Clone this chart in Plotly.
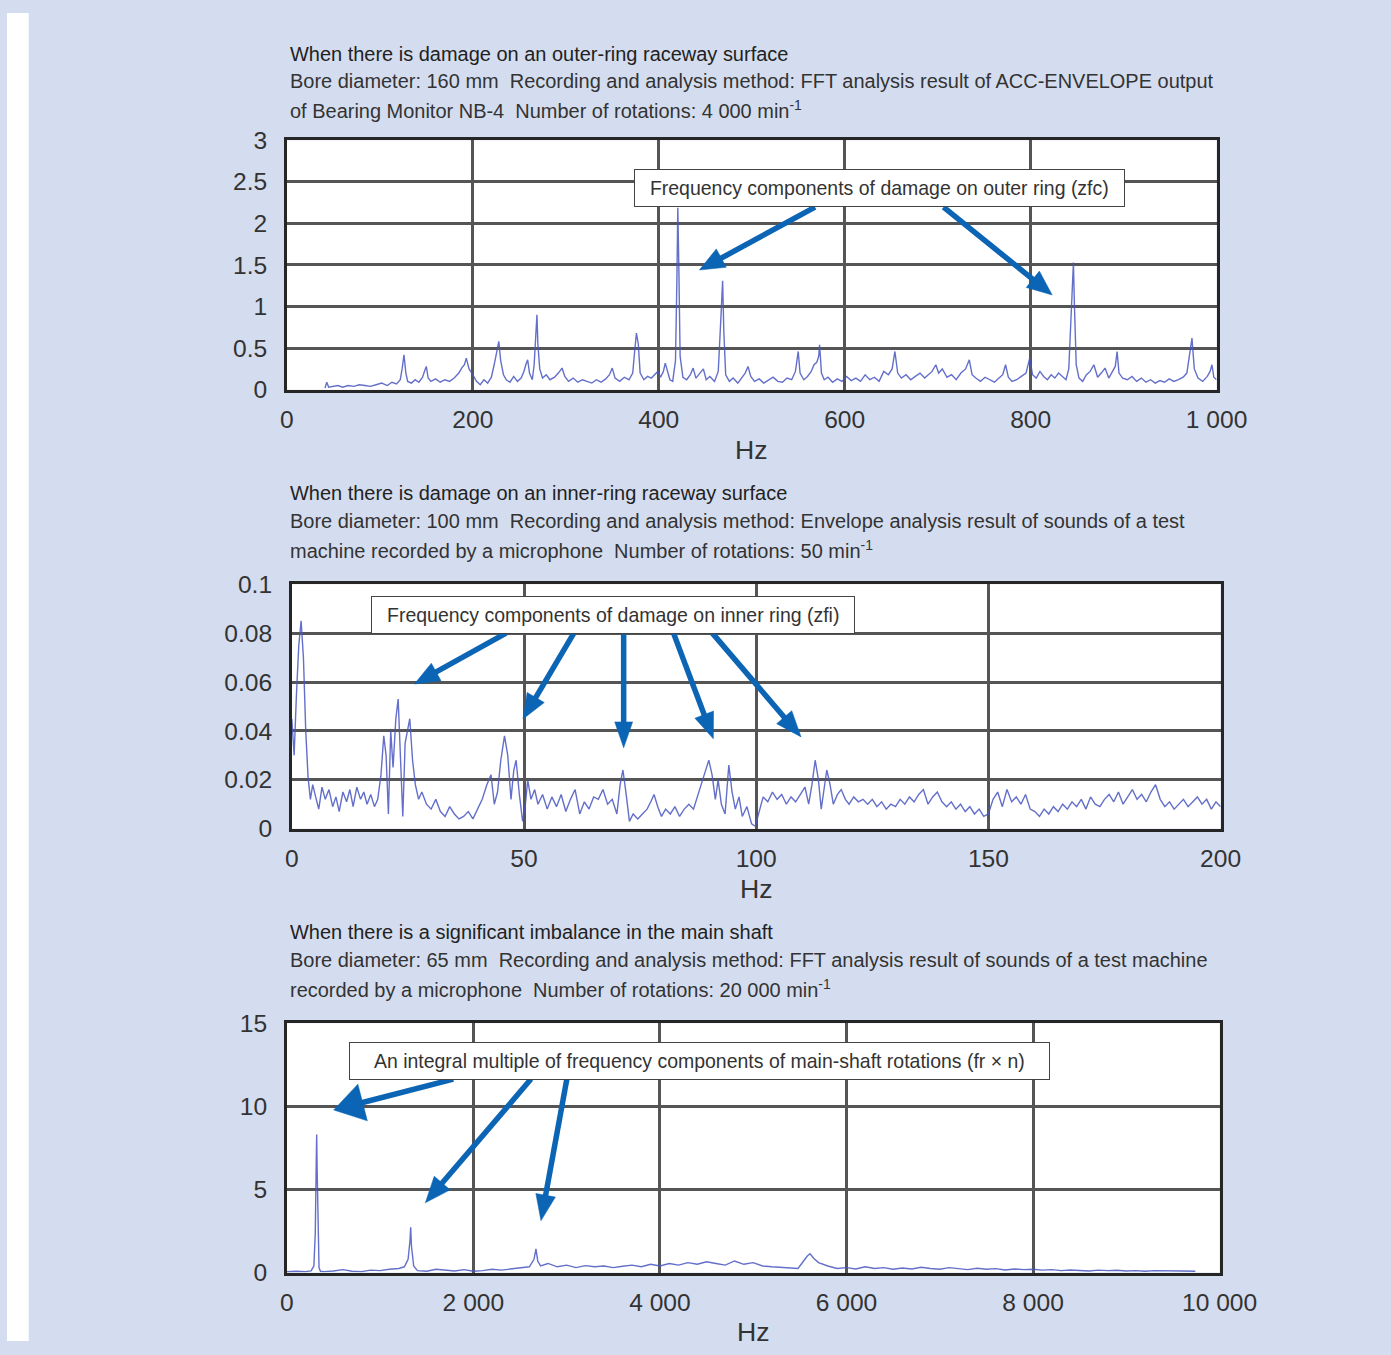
import plotly.graph_objects as go

W, H = 1391, 1355

# ---------------- Chart 1: outer-ring damage (0-1000 Hz) ----------------
outer_hz = [
    41, 43, 45, 50, 55, 60, 66, 72, 78, 84,
    90, 96, 102, 108, 113, 118, 122, 124, 126, 128,
    130, 134, 138, 142, 146, 148, 150, 152, 155, 160,
    165, 170, 175, 180, 185, 188, 191, 193, 196, 200,
    204, 208, 212, 216, 220, 223, 226, 228, 230, 233,
    236, 240, 244, 248, 252, 255, 257, 259, 261, 264,
    266, 268, 269, 270, 272, 275, 279, 283, 288, 292,
    296, 299, 303, 308, 313, 318, 323, 328, 333, 338,
    343, 347, 350, 353, 358, 363, 368, 372, 374, 376,
    378, 380, 384, 388, 392, 396, 399, 402, 405, 407,
    409, 412, 415, 418, 419.5, 420.5, 421.5, 423, 426, 430,
    434, 437, 440, 444, 448, 451, 455, 460, 464, 467,
    468.7, 470, 472, 476, 480, 485, 490, 493, 496, 499,
    503, 508, 513, 518, 523, 528, 533, 538, 543, 547,
    550, 552, 556, 560, 564, 567, 570, 572, 573, 575,
    578, 582, 587, 592, 597, 602, 607, 612, 617, 622,
    627, 632, 637, 642, 647, 651, 654, 657, 661, 666,
    671, 676, 681, 686, 690, 694, 698, 701, 705, 710,
    715, 720, 725, 730, 734, 737, 741, 746, 751, 756,
    761, 766, 770, 773, 776, 780, 785, 790, 795, 799,
    802, 806, 810, 814, 818, 822, 826, 830, 834, 838,
    841, 843, 845, 846, 847, 849, 852, 856, 860, 864,
    868, 872, 876, 880, 884, 888, 891, 893, 895, 899,
    904, 909, 914, 919, 924, 929, 934, 939, 944, 949,
    954, 959, 964, 968, 971, 973.5, 976, 980, 985, 990,
    993, 995, 997, 1000,
]
outer_amp = [
    0.02, 0.09, 0.03, 0.04, 0.05, 0.03, 0.05, 0.04, 0.06, 0.05,
    0.04, 0.06, 0.08, 0.05, 0.09, 0.07, 0.12, 0.25, 0.42, 0.20,
    0.10, 0.08, 0.12, 0.09, 0.15, 0.22, 0.28, 0.14, 0.10, 0.13,
    0.09, 0.12, 0.10, 0.14, 0.20, 0.26, 0.30, 0.38, 0.25, 0.18,
    0.10, 0.06, 0.12, 0.08, 0.15, 0.30, 0.45, 0.58, 0.35, 0.18,
    0.12, 0.09, 0.16, 0.10, 0.14, 0.22, 0.30, 0.36, 0.20, 0.12,
    0.30, 0.65, 0.90, 0.55, 0.25, 0.14, 0.18, 0.12, 0.15, 0.20,
    0.26, 0.16, 0.10, 0.14, 0.09, 0.12, 0.10, 0.08, 0.12, 0.09,
    0.13, 0.18, 0.26, 0.14, 0.10, 0.15, 0.12, 0.20, 0.45, 0.68,
    0.55, 0.20, 0.12, 0.16, 0.14, 0.18, 0.22, 0.15, 0.22, 0.32,
    0.25, 0.12, 0.10, 0.35, 1.30, 2.19, 1.55, 0.40, 0.15, 0.12,
    0.18, 0.26, 0.14, 0.20, 0.25, 0.12, 0.16, 0.10, 0.22, 0.90,
    1.31, 0.70, 0.18, 0.10, 0.14, 0.08, 0.15, 0.20, 0.28, 0.16,
    0.10, 0.13, 0.08, 0.12, 0.15, 0.10, 0.09, 0.14, 0.12, 0.22,
    0.46, 0.20, 0.12, 0.16, 0.22, 0.30, 0.33, 0.40, 0.54, 0.20,
    0.12, 0.15, 0.09, 0.13, 0.10, 0.16, 0.11, 0.14, 0.10, 0.18,
    0.12, 0.15, 0.10, 0.22, 0.18, 0.25, 0.46, 0.20, 0.14, 0.18,
    0.12, 0.16, 0.20, 0.14, 0.18, 0.22, 0.30, 0.20, 0.25, 0.15,
    0.18, 0.12, 0.20, 0.25, 0.36, 0.18, 0.14, 0.10, 0.15, 0.12,
    0.09, 0.14, 0.18, 0.30, 0.15, 0.10, 0.12, 0.16, 0.20, 0.38,
    0.18, 0.14, 0.22, 0.16, 0.12, 0.18, 0.14, 0.20, 0.16, 0.12,
    0.25, 0.70, 1.20, 1.53, 1.05, 0.30, 0.14, 0.10, 0.18, 0.22,
    0.30, 0.15, 0.20, 0.26, 0.14, 0.22, 0.28, 0.46, 0.20, 0.14,
    0.12, 0.16, 0.10, 0.14, 0.09, 0.12, 0.08, 0.11, 0.09, 0.13,
    0.10, 0.12, 0.15, 0.20, 0.40, 0.62, 0.25, 0.14, 0.10, 0.16,
    0.22, 0.30, 0.15, 0.12,
]

# ---------------- Chart 2: inner-ring damage (0-200 Hz) ----------------
inner_hz = [
    0, 0.5, 1, 1.5, 2, 2.5, 3, 3.5, 4, 4.5,
    5, 5.8, 6.5, 7.2, 8, 8.8, 9.5, 10.2, 11, 11.8,
    12.5, 13.2, 14, 14.8, 15.5, 16.2, 17, 17.8, 18.5, 19.2,
    19.8, 20.3, 20.8, 21.3, 21.8, 22.4, 22.9, 23.4, 23.9, 24.4,
    24.9, 25.4, 26, 26.6, 27.3, 28, 29, 30, 31, 32,
    33, 34, 35, 36, 37, 38, 39, 40, 41, 42,
    42.9, 43.6, 44.3, 45, 45.8, 46.5, 47.2, 47.8, 48.3, 49,
    49.7, 50.3, 50.8, 51.5, 52.3, 53, 54, 55, 56, 57,
    58, 59, 60, 61, 62, 63, 64, 65, 66, 67,
    68, 69, 70, 70.7, 71.3, 72, 72.7, 73.5, 74.5, 75.5,
    76.5, 77.3, 78, 78.8, 79.6, 80.5, 81.5, 82.5, 83.5, 84.5,
    85.5, 86.5, 87.3, 88, 88.8, 89.8, 90.5, 91.2, 91.8, 92.5,
    93.3, 94.1, 94.8, 95.5, 96.3, 97, 98, 99, 99.8, 100.5,
    101.5, 102.5, 103.5, 104.5, 105.5, 106.5, 107.5, 108.5, 109.5, 110.5,
    111.3, 112, 112.7, 113.4, 114, 114.6, 115.2, 115.9, 116.6, 117.5,
    118.3, 119.2, 120, 121, 122, 123, 124, 125, 126, 127,
    128, 129, 130, 131, 132, 133, 134, 135, 136, 137,
    138, 139, 140, 141, 142, 143, 144, 145, 146, 147,
    148, 149, 150, 151, 152, 153, 154, 155, 156, 157,
    158, 159, 160, 161, 162, 163, 164, 165, 166, 167,
    168, 169, 170, 171, 172, 173, 174, 175, 176, 177,
    178, 179, 180, 181, 182, 183, 184, 185, 186, 187,
    188, 189, 190, 191, 192, 193, 194, 195, 196, 197,
    198, 199, 200,
]
inner_amp = [
    0.045, 0.030, 0.055, 0.075, 0.085, 0.070, 0.040, 0.021, 0.012, 0.018,
    0.014, 0.008, 0.017, 0.012, 0.016, 0.009, 0.013, 0.007, 0.015, 0.011,
    0.016, 0.009, 0.017, 0.012, 0.015, 0.010, 0.014, 0.009, 0.012, 0.022,
    0.038, 0.030, 0.006, 0.040, 0.025, 0.045, 0.053, 0.030, 0.005, 0.035,
    0.040, 0.045, 0.028, 0.018, 0.012, 0.015, 0.010, 0.008, 0.012, 0.007,
    0.005, 0.009, 0.006, 0.004, 0.005, 0.007, 0.004, 0.008, 0.012, 0.018,
    0.022, 0.010, 0.015, 0.028, 0.038, 0.030, 0.012, 0.024, 0.028, 0.014,
    0.003, 0.010, 0.020, 0.012, 0.016, 0.010, 0.014, 0.008, 0.013, 0.009,
    0.014, 0.007, 0.012, 0.016, 0.006, 0.011, 0.008, 0.013, 0.012, 0.016,
    0.010, 0.012, 0.006, 0.018, 0.024, 0.014, 0.003, 0.006, 0.004, 0.006,
    0.008, 0.011, 0.014, 0.009, 0.005, 0.008, 0.006, 0.009, 0.005, 0.008,
    0.010, 0.008, 0.013, 0.018, 0.022, 0.028, 0.022, 0.012, 0.020, 0.010,
    0.006, 0.026, 0.015, 0.008, 0.013, 0.005, 0.009, 0.002, 0.001, 0.006,
    0.013, 0.011, 0.015, 0.012, 0.014, 0.010, 0.013, 0.011, 0.014, 0.017,
    0.010, 0.018, 0.028, 0.020, 0.008, 0.016, 0.024, 0.018, 0.010, 0.014,
    0.016, 0.012, 0.010, 0.013, 0.011, 0.012, 0.010, 0.012, 0.009, 0.011,
    0.008, 0.010, 0.009, 0.012, 0.010, 0.013, 0.011, 0.014, 0.016, 0.010,
    0.013, 0.015, 0.011, 0.009, 0.011, 0.008, 0.010, 0.007, 0.009, 0.006,
    0.008, 0.005, 0.006, 0.012, 0.015, 0.009, 0.016, 0.011, 0.013, 0.010,
    0.014, 0.008, 0.007, 0.005, 0.008, 0.006, 0.009, 0.007, 0.010, 0.008,
    0.011, 0.009, 0.012, 0.008, 0.013, 0.010, 0.009, 0.012, 0.014, 0.011,
    0.015, 0.010, 0.013, 0.016, 0.012, 0.014, 0.011, 0.015, 0.018, 0.012,
    0.009, 0.011, 0.008, 0.010, 0.012, 0.009, 0.011, 0.013, 0.010, 0.012,
    0.008, 0.011, 0.009,
]

# ---------------- Chart 3: main-shaft imbalance (0-10000 Hz) ----------------
shaft_hz = [
    0, 100, 200, 260, 290, 305, 315, 320, 325, 335,
    345, 360, 400, 500, 600, 700, 800, 900, 1000, 1100,
    1200, 1260, 1300, 1320, 1328, 1336, 1360, 1400, 1500, 1600,
    1700, 1800, 1900, 2000, 2100, 2200, 2300, 2400, 2500, 2600,
    2650, 2671, 2690, 2720, 2800, 2900, 3000, 3100, 3200, 3300,
    3400, 3500, 3600, 3700, 3800, 3900, 4000, 4100, 4200, 4300,
    4400, 4500, 4600, 4700, 4800, 4900, 5000, 5100, 5200, 5300,
    5400, 5480, 5540, 5580, 5609, 5650, 5700, 5800, 5900, 6000,
    6100, 6200, 6300, 6400, 6500, 6600, 6700, 6800, 6900, 7000,
    7100, 7200, 7300, 7400, 7500, 7600, 7700, 7800, 7900, 8000,
    8100, 8200, 8300, 8400, 8500, 8600, 8700, 8800, 8900, 9000,
    9100, 9200, 9300, 9400, 9500, 9600, 9740,
]
shaft_amp = [
    0.05, 0.08, 0.06, 0.10, 0.40, 2.40, 6.50, 8.30, 6.20, 2.00,
    0.30, 0.08, 0.06, 0.10, 0.18, 0.08, 0.06, 0.15, 0.12, 0.20,
    0.25, 0.35, 0.80, 1.90, 2.73, 1.60, 0.40, 0.12, 0.08, 0.20,
    0.14, 0.10, 0.18, 0.08, 0.12, 0.20, 0.15, 0.22, 0.25, 0.35,
    0.80, 1.43, 0.70, 0.40, 0.55, 0.35, 0.45, 0.30, 0.42, 0.35,
    0.40, 0.30, 0.38, 0.45, 0.35, 0.50, 0.40, 0.55, 0.45, 0.60,
    0.50, 0.65, 0.55, 0.45, 0.70, 0.50, 0.60, 0.40, 0.35, 0.30,
    0.28, 0.25, 0.70, 1.00, 1.13, 0.85, 0.60, 0.40, 0.25, 0.30,
    0.22, 0.35, 0.25, 0.30, 0.20, 0.28, 0.22, 0.32, 0.25, 0.20,
    0.30, 0.22, 0.18, 0.26, 0.20, 0.24, 0.16, 0.22, 0.18, 0.20,
    0.15, 0.18, 0.12, 0.16, 0.14, 0.10, 0.15, 0.12, 0.14, 0.10,
    0.12, 0.08, 0.12, 0.10, 0.08, 0.10, 0.08,
]

assert len(outer_hz) == len(outer_amp)
assert len(inner_hz) == len(inner_amp)
assert len(shaft_hz) == len(shaft_amp)

# ---------------- Tick labels ----------------
x1_ticks = [0, 200, 400, 600, 800, 1000]
x1_text = ["0", "200", "400", "600", "800", "1 000"]
y1_ticks = [0, 0.5, 1, 1.5, 2, 2.5, 3]
y1_text = ["0", "0.5", "1", "1.5", "2", "2.5", "3"]
x2_ticks = [0, 50, 100, 150, 200]
x2_text = ["0", "50", "100", "150", "200"]
y2_ticks = [0, 0.02, 0.04, 0.06, 0.08, 0.1]
y2_text = ["0", "0.02", "0.04", "0.06", "0.08", "0.1"]
x3_ticks = [0, 2000, 4000, 6000, 8000, 10000]
x3_text = ["0", "2 000", "4 000", "6 000", "8 000", "10 000"]
y3_ticks = [0, 5, 10, 15]
y3_text = ["0", "5", "10", "15"]

titles = [
    ["When there is damage on an outer-ring raceway surface",
     "Bore diameter: 160 mm  Recording and analysis method: FFT analysis result of ACC-ENVELOPE output",
     "of Bearing Monitor NB-4  Number of rotations: 4 000 min<sup>-1</sup>"],
    ["When there is damage on an inner-ring raceway surface",
     "Bore diameter: 100 mm  Recording and analysis method: Envelope analysis result of sounds of a test",
     "machine recorded by a microphone  Number of rotations: 50 min<sup>-1</sup>"],
    ["When there is a significant imbalance in the main shaft",
     "Bore diameter: 65 mm  Recording and analysis method: FFT analysis result of sounds of a test machine",
     "recorded by a microphone  Number of rotations: 20 000 min<sup>-1</sup>"],
]
callouts = [
    "Frequency components of damage on outer ring (zfc)",
    "Frequency components of damage on inner ring (zfi)",
    "An integral multiple of frequency components of main-shaft rotations (fr × n)",
]

FONT = "Liberation Sans"
TXT = "#333333"
PANEL = "#d4ddef"
LINE = "rgba(72,86,192,0.85)"
ARROW = "#0b64b4"

# The photographed page comes out slightly scaled; positions below are
# given in target-picture pixels and mapped back to page pixels.
SX, OX = 0.971, 4.2
SY, OY = 0.9824, 12.4
FS = 1.025  # font compensation


def pxx(px):
    return (px - OX) / SX


def pxy(py):
    return (py - OY) / SY


def fx(px):
    return pxx(px) / W


def fy(py):
    return 1 - pxy(py) / H


# pixel geometry of the three plot areas: (left, right, top, bottom)
boxes = [(285, 1218, 140, 390), (290, 1222, 585, 830), (285, 1221, 1025, 1275)]
ranges = [([0, 1000], [0, 3]), ([0, 200], [0, 0.1]), ([0, 10000], [0, 15])]
xticks = [(x1_ticks, x1_text), (x2_ticks, x2_text), (x3_ticks, x3_text)]
yticks = [(y1_ticks, y1_text), (y2_ticks, y2_text), (y3_ticks, y3_text)]
series = [(outer_hz, outer_amp), (inner_hz, inner_amp), (shaft_hz, shaft_amp)]

fig = go.Figure()
layout = dict(
    width=W, height=H, margin=dict(l=0, r=0, t=0, b=0), autosize=False,
    paper_bgcolor=PANEL, plot_bgcolor="white", showlegend=False,
    font=dict(family=FONT, color=TXT),
)
annotations = []
shapes = [
    dict(type="rect", xref="paper", yref="paper", x0=0, x1=max(fx(26), 0), y0=0, y1=1,
         fillcolor="white", line=dict(width=0), layer="below"),
]

TICK = 24 * FS
for i in range(3):
    sfx = "" if i == 0 else str(i + 1)
    l, r, t, b = boxes[i]
    xr, yr = ranges[i]
    layout["xaxis" + sfx] = dict(
        domain=[fx(l), fx(r)], range=xr, anchor="y" + sfx,
        tickmode="array", tickvals=xticks[i][0], ticktext=xticks[i][1],
        tickfont=dict(size=TICK, color=TXT, family=FONT), ticks="", ticklabelstandoff=6,
        showgrid=True, gridcolor="#555555", gridwidth=3, zeroline=False,
        showline=True, mirror=True, linecolor="#262626", linewidth=2.5,
    )
    layout["yaxis" + sfx] = dict(
        domain=[fy(b), fy(t)], range=yr, anchor="x" + sfx,
        tickmode="array", tickvals=yticks[i][0], ticktext=yticks[i][1],
        tickfont=dict(size=TICK, color=TXT, family=FONT), ticks="", ticklabelstandoff=12,
        showgrid=True, gridcolor="#555555", gridwidth=3, zeroline=False,
        showline=True, mirror=True, linecolor="#262626", linewidth=2.5,
    )
    fig.add_trace(go.Scatter(
        x=series[i][0], y=series[i][1], mode="lines",
        line=dict(color=LINE, width=1.4), xaxis="x" + sfx, yaxis="y" + sfx,
        hoverinfo="skip",
    ))
    # Hz axis label
    annotations.append(dict(
        text="Hz", xref="paper", yref="paper", x=fx((l + r) / 2), y=fy(b + 60),
        xanchor="center", yanchor="middle", showarrow=False,
        font=dict(size=26 * FS, color=TXT, family=FONT),
    ))

# titles
title_top = [53, 494, 934]
for i in range(3):
    for j, line in enumerate(titles[i]):
        annotations.append(dict(
            text=line, xref="paper", yref="paper", x=fx(286), y=fy(title_top[i] + 28 * j),
            xanchor="left", yanchor="middle", showarrow=False,
            font=dict(size=19.5 * FS, color="#222222" if j == 0 else TXT, family=FONT),
        ))

# callout boxes: (left, right, top, bottom)
callout_boxes = [(635, 1125, 170, 206), (370, 854, 598, 633), (352, 1046, 1045, 1080)]
for i, (l, r, t, b) in enumerate(callout_boxes):
    annotations.append(dict(
        text=callouts[i], xref="paper", yref="paper",
        x=fx((l + r) / 2), y=fy((t + b) / 2), xanchor="center", yanchor="middle",
        showarrow=False, bgcolor="white", bordercolor="#444444", borderwidth=1,
        borderpad=7, width=(r - l) / SX - 30, align="center",
        font=dict(size=19 * FS, color=TXT, family=FONT),
    ))

# arrows: start, tip, head length, head half width (pixels)
arrows = [
    ((815, 207), (699, 270), 25, 10.5),
    ((944, 207), (1053, 295), 25, 10.5),
    ((505, 634), (413, 685), 25, 10),
    ((573, 634), (522, 720), 25, 10),
    ((623, 634), (623, 749), 26, 9),
    ((673, 634), (713, 740), 26, 10),
    ((712, 634), (801, 738), 26, 10),
    ((452, 1081), (332, 1112), 30, 19),
    ((530, 1081), (424, 1205), 26, 10.5),
    ((566, 1081), (540, 1223), 26, 10),
]
for (sx, sy), (tx, ty), hl, hw in arrows:
    dx, dy = tx - sx, ty - sy
    n = (dx * dx + dy * dy) ** 0.5
    ux, uy = dx / n, dy / n
    bx, by = tx - ux * hl, ty - uy * hl
    px_, py_ = -uy, ux
    shapes.append(dict(
        type="line", xref="paper", yref="paper",
        x0=fx(sx), y0=fy(sy), x1=fx(bx + ux * 3), y1=fy(by + uy * 3),
        line=dict(color=ARROW, width=5.5), layer="above",
    ))
    path = "M{:.5f},{:.5f} L{:.5f},{:.5f} L{:.5f},{:.5f} Z".format(
        fx(tx), fy(ty),
        fx(bx + px_ * hw), fy(by + py_ * hw),
        fx(bx - px_ * hw), fy(by - py_ * hw),
    )
    shapes.append(dict(
        type="path", xref="paper", yref="paper", path=path,
        fillcolor=ARROW, line=dict(color=ARROW, width=0.5), layer="above",
    ))

layout["annotations"] = annotations
layout["shapes"] = shapes
fig.update_layout(**layout)
fig.write_html(
    "out.html",
    config={"responsive": False, "displayModeBar": False},
    post_script="document.body.style.margin='0';document.body.style.overflow='hidden';",
)
